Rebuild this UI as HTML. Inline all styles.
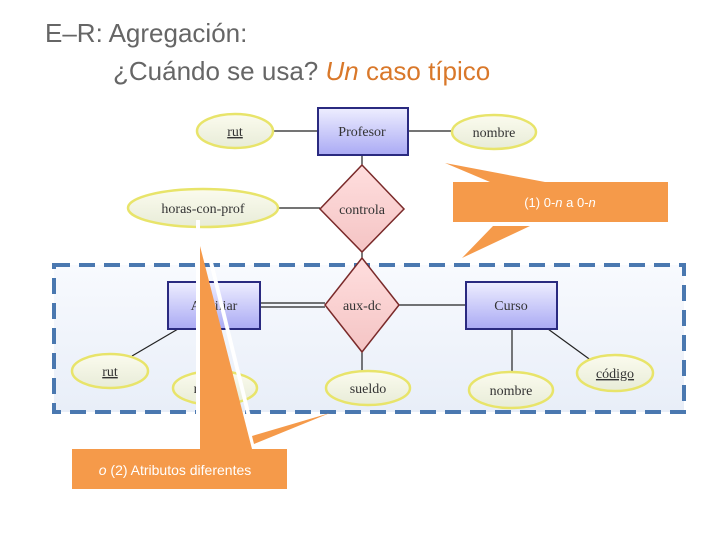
<!DOCTYPE html>
<html><head><meta charset="utf-8"><style>
html,body{margin:0;padding:0;background:#fff;width:720px;height:540px;overflow:hidden}
svg{display:block}
.t{font-family:"Liberation Serif",serif;font-size:14px;fill:#333;text-anchor:middle}
.s{font-family:"Liberation Sans",sans-serif}
</style></head><body>
<svg width="720" height="540" viewBox="0 0 720 540">
<defs>
<linearGradient id="ent" x1="0" y1="0" x2="0" y2="1"><stop offset="0" stop-color="#eeeeff"/><stop offset="1" stop-color="#aaaaf4"/></linearGradient>
<linearGradient id="rel" x1="0" y1="0" x2="0" y2="1"><stop offset="0" stop-color="#ffdede"/><stop offset="1" stop-color="#f4c4c4"/></linearGradient>
<linearGradient id="att" x1="0" y1="0" x2="0" y2="1"><stop offset="0" stop-color="#fbfbee"/><stop offset="1" stop-color="#e8ecd8"/></linearGradient>
<linearGradient id="box" x1="0" y1="0" x2="0" y2="1"><stop offset="0" stop-color="#f8fafe"/><stop offset="1" stop-color="#e8eef8"/></linearGradient>
</defs>
<text x="45" y="42" class="s" font-size="26" fill="#666">E–R: Agregación:</text>
<text x="113" y="80" class="s" font-size="26" fill="#666">¿Cuándo se usa? <tspan fill="#d9782a" font-style="italic">Un</tspan><tspan fill="#d9782a"> caso típico</tspan></text>

<rect x="54" y="265" width="630" height="147" fill="url(#box)" stroke="#4a78b0" stroke-width="4" stroke-dasharray="16,9"/>

<g stroke="#222" stroke-width="1.2" fill="none">
<line x1="273" y1="131" x2="318" y2="131"/><line x1="408" y1="131" x2="452" y2="131"/>
<line x1="362" y1="155" x2="362" y2="165"/><line x1="278" y1="208" x2="320" y2="208"/>
<line x1="362" y1="252" x2="362" y2="266"/>
<line x1="260" y1="303" x2="325" y2="303"/><line x1="260" y1="307" x2="325" y2="307"/>
<line x1="399" y1="305" x2="466" y2="305"/><line x1="362" y1="352" x2="362" y2="371"/>
<line x1="178" y1="329" x2="132" y2="356"/><line x1="512" y1="329" x2="512" y2="372"/>
<line x1="548" y1="329" x2="592" y2="361"/>
</g>
<g stroke="#e8e46a" stroke-width="2.5" fill="url(#att)">
<ellipse cx="235" cy="131" rx="38" ry="17"/><ellipse cx="494" cy="132" rx="42" ry="17"/>
<ellipse cx="203" cy="208" rx="75" ry="19"/>
<ellipse cx="110" cy="371" rx="38" ry="17"/><ellipse cx="215" cy="388" rx="42" ry="17"/>
<ellipse cx="368" cy="388" rx="42" ry="17"/><ellipse cx="511" cy="390" rx="42" ry="18"/>
<ellipse cx="615" cy="373" rx="38" ry="18"/>
</g>
<g stroke="#2a2a80" stroke-width="2" fill="url(#ent)">
<rect x="318" y="108" width="90" height="47"/><rect x="168" y="282" width="92" height="47"/><rect x="466" y="282" width="91" height="47"/>
</g>
<g stroke="#7a2a2a" stroke-width="1.5" fill="url(#rel)">
<polygon points="362,165 404,209 362,252 320,209"/>
<polygon points="362,258 399,305 362,352 325,305"/>
</g>
<text x="235" y="136" class="t" text-decoration="underline">rut</text>
<text x="362" y="136" class="t">Profesor</text>
<text x="494" y="137" class="t">nombre</text>
<text x="203" y="213" class="t">horas-con-prof</text>
<text x="362" y="214" class="t">controla</text>
<text x="214" y="310" class="t">Auxiliar</text>
<text x="362" y="310" class="t">aux-dc</text>
<text x="511" y="310" class="t">Curso</text>
<text x="110" y="376" class="t" text-decoration="underline">rut</text>
<text x="215" y="393" class="t">nombre</text>
<text x="368" y="393" class="t">sueldo</text>
<text x="511" y="395" class="t">nombre</text>
<text x="615" y="378" class="t" text-decoration="underline">código</text>

<g fill="#f59a4a">
<polygon points="445,163 545,182 490,182"/>
<rect x="453" y="182" width="215" height="40"/>
<polygon points="493,226 530,226 462,258"/>
<polygon points="196,220 200,220 200,449 196,449" fill="#fff"/>
<polygon points="200,246 252,449 200,449"/>
<polygon points="205,246 209,246 258,445 254,445" fill="#fff"/>
<polygon points="252,436 330,413 254,444"/>
<rect x="72" y="449" width="215" height="40"/>
</g>
<text x="560" y="207" class="s" font-size="13" fill="#fff" text-anchor="middle">(1) 0-<tspan font-style="italic">n</tspan> a 0-<tspan font-style="italic">n</tspan></text>
<text x="175" y="475" class="s" font-size="14" fill="#fff" text-anchor="middle"><tspan font-style="italic">o</tspan> (2) Atributos diferentes</text>
</svg>
</body></html>
